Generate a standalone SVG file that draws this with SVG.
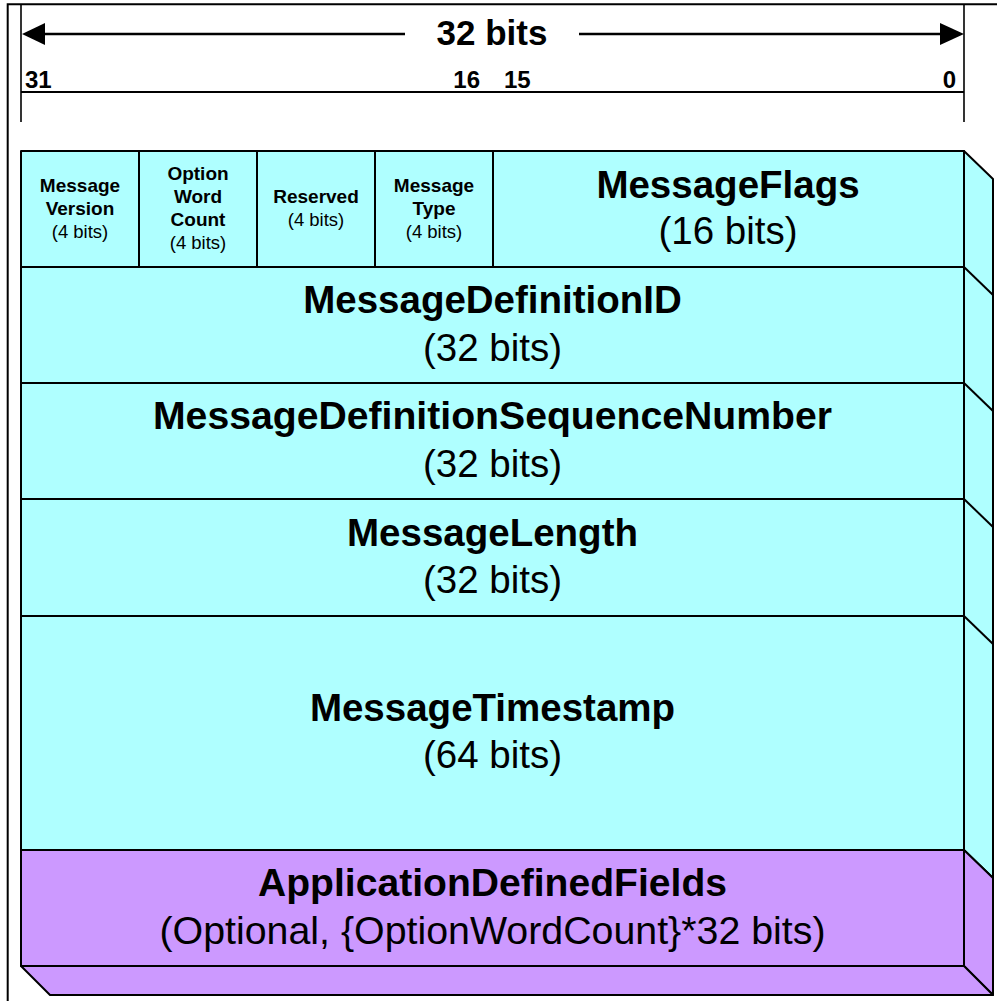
<svg xmlns="http://www.w3.org/2000/svg" width="997" height="1001" viewBox="0 0 997 1001">
<style>
text{font-family:"Liberation Sans",Arial,sans-serif;fill:#000;text-anchor:middle}
.t{font-size:38.5px;font-weight:bold}
.s{font-size:38.5px}
.sb{font-size:19px;font-weight:bold}
.sr{font-size:18.5px}
.bit{font-size:24px;font-weight:bold}
.cy{fill:#AFFFFF;stroke:#000;stroke-width:2;stroke-linejoin:round}
.pu{fill:#CC99FF;stroke:#000;stroke-width:2;stroke-linejoin:round}
.ln{stroke:#000;stroke-width:2;fill:none}
</style>
<rect x="0" y="0" width="997" height="1001" fill="#fff"/>
<path d="M7.7 1001 V4.3 H997" class="ln"/>
<g id="connectors">
<line x1="21" y1="5" x2="21" y2="122" stroke="#000" stroke-width="1.6"/>
<line x1="964" y1="5" x2="964" y2="122" stroke="#000" stroke-width="1.6"/>
<line x1="21" y1="92" x2="964" y2="92" class="ln"/>
<line x1="40" y1="34" x2="405" y2="34" stroke="#000" stroke-width="2.5"/>
<line x1="579" y1="34" x2="945" y2="34" stroke="#000" stroke-width="2.5"/>
<polygon points="22,34 45,23 45,45" fill="#000"/>
<polygon points="964,34 940,23 940,45" fill="#000"/>
<text x="492" y="45" style="font-size:35px;font-weight:bold">32 bits</text>
<text class="bit" x="25" y="88" style="text-anchor:start">31</text>
<text class="bit" x="480" y="88" style="text-anchor:end">16</text>
<text class="bit" x="504" y="88" style="text-anchor:start">15</text>
<text class="bit" x="956" y="88" style="text-anchor:end">0</text>
</g>
<g id="sides">
<polygon class="cy" points="964,151 993,179 993,878 964,850"/>
<line class="ln" x1="964" y1="267" x2="993" y2="295"/>
<line class="ln" x1="964" y1="383" x2="993" y2="411"/>
<line class="ln" x1="964" y1="499" x2="993" y2="527"/>
<line class="ln" x1="964" y1="616" x2="993" y2="644"/>
<polygon class="pu" points="964,850 993,878 993,995 964,966"/>
<polygon class="pu" points="21,966 964,966 993,995 50,995"/>
</g>
<g id="MessageVersion">
<rect class="cy" x="21" y="151" width="118" height="116"/>
<text class="sb" x="80" y="192">Message</text>
<text class="sb" x="80" y="215">Version</text>
<text class="sr" x="80" y="238">(4 bits)</text>
</g>
<g id="OptionWordCount">
<rect class="cy" x="139" y="151" width="118" height="116"/>
<text class="sb" x="198" y="180">Option</text>
<text class="sb" x="198" y="203">Word</text>
<text class="sb" x="198" y="226">Count</text>
<text class="sr" x="198" y="249">(4 bits)</text>
</g>
<g id="Reserved">
<rect class="cy" x="257" y="151" width="118" height="116"/>
<text class="sb" x="316" y="203">Reserved</text>
<text class="sr" x="316" y="226">(4 bits)</text>
</g>
<g id="MessageType">
<rect class="cy" x="375" y="151" width="118" height="116"/>
<text class="sb" x="434" y="192">Message</text>
<text class="sb" x="434" y="215">Type</text>
<text class="sr" x="434" y="238">(4 bits)</text>
</g>
<g id="MessageFlags">
<rect class="cy" x="493" y="151" width="471" height="116"/>
<text class="t" x="728" y="198">MessageFlags</text>
<text class="s" x="728" y="244">(16 bits)</text>
</g>
<g id="MessageDefinitionID">
<rect class="cy" x="21" y="267" width="943" height="116"/>
<text class="t" x="492.5" y="313">MessageDefinitionID</text>
<text class="s" x="492.5" y="361">(32 bits)</text>
</g>
<g id="MessageDefinitionSequenceNumber">
<rect class="cy" x="21" y="383" width="943" height="116"/>
<text class="t" x="492.5" y="429" textLength="679" lengthAdjust="spacingAndGlyphs">MessageDefinitionSequenceNumber</text>
<text class="s" x="492.5" y="477">(32 bits)</text>
</g>
<g id="MessageLength">
<rect class="cy" x="21" y="499" width="943" height="117"/>
<text class="t" x="492.5" y="546">MessageLength</text>
<text class="s" x="492.5" y="593">(32 bits)</text>
</g>
<g id="MessageTimestamp">
<rect class="cy" x="21" y="616" width="943" height="234"/>
<text class="t" x="492.5" y="721">MessageTimestamp</text>
<text class="s" x="492.5" y="768">(64 bits)</text>
</g>
<g id="ApplicationDefinedFields">
<rect class="pu" x="21" y="850" width="943" height="116"/>
<text class="t" x="492.5" y="896" textLength="469" lengthAdjust="spacingAndGlyphs">ApplicationDefinedFields</text>
<text class="s" x="492.5" y="944" textLength="666" lengthAdjust="spacingAndGlyphs">(Optional, {OptionWordCount}*32 bits)</text>
</g>
</svg>
